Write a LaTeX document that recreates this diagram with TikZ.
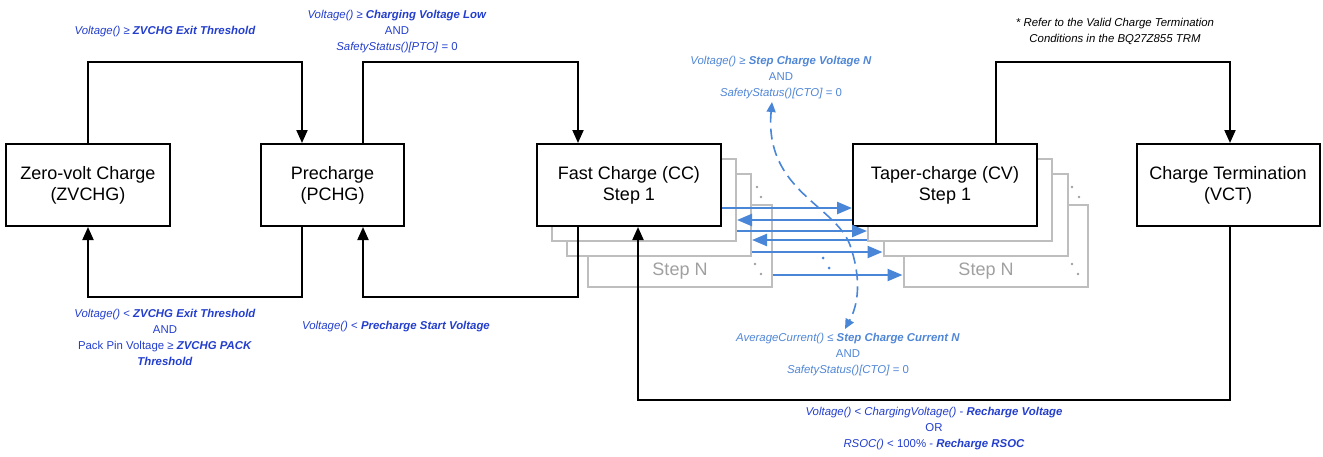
\documentclass[tikz,border=0pt]{standalone}
\usepackage{fontspec}
\setmainfont{Liberation Sans}
\usetikzlibrary{arrows.meta,calc}
\definecolor{dblue}{RGB}{35,62,205}
\definecolor{lblue}{RGB}{80,134,214}
\definecolor{bline}{RGB}{74,134,216}
\definecolor{gline}{RGB}{190,190,190}
\definecolor{gtext}{RGB}{160,160,160}
\newcommand\boxfont{\fontsize{18}{21}\selectfont}
\newcommand\lblfont{\fontsize{11.4}{16}\selectfont}
\newcommand\bi[1]{\textbf{\textit{#1}}}
\tikzset{
  box/.style={draw, line width=2pt, fill=white, minimum height=82pt, inner sep=0pt, align=center, font=\boxfont},
  gbox/.style={draw=gline, line width=2pt, fill=white, minimum height=82pt, minimum width=184pt, inner sep=0pt},
  gtxt/.style={font=\boxfont, text=gtext, inner sep=0pt},
  conn/.style={line width=2pt, -{Triangle[length=13pt,width=11pt]}},
  barrow/.style={draw=bline, line width=2.4pt, -{Triangle[length=15pt,width=12pt]}},
  dasharrow/.style={draw=bline, line width=1.6pt, dash pattern=on 11pt off 6pt, {Triangle[length=10pt,width=9pt]}-{Triangle[length=10pt,width=9pt]}},
  lbl/.style={align=center, font=\lblfont, text=dblue, inner sep=0pt},
  llbl/.style={align=center, font=\lblfont, text=lblue, inner sep=0pt},
  gdot/.style={fill=gtext, draw=none},
  bdot/.style={fill=bline, draw=none}
}
\begin{document}
\begin{tikzpicture}[x=1pt,y=-1pt]
\useasboundingbox (0,0) rectangle (1323,456);
% back stacks
\node[gbox] (fcN) at (679.5,246) {};
\node[gtxt] (fcNl) at (680,271) {Step N};
\node[gbox] (fc3) at (659,215) {};
\node[gbox] (fc2) at (644,200) {};
\node[gbox] (tcN) at (995.5,246) {};
\node[gtxt] (tcNl) at (986,271) {Step N};
\node[gbox] (tc3) at (975.5,215) {};
\node[gbox] (tc2) at (960,200) {};
% main boxes
\node[box, minimum width=164pt] (zv) at (88,185) {Zero-volt Charge\\(ZVCHG)};
\node[box, minimum width=143pt] (pc) at (332.5,185) {Precharge\\(PCHG)};
\node[box, minimum width=184pt] (fc1) at (629,185) {Fast Charge (CC)\\Step 1};
\node[box, minimum width=184pt] (tc1) at (945,185) {Taper-charge (CV)\\Step 1};
\node[box, minimum width=183pt] (vct) at (1228,185) {Charge Termination\\(VCT)};
% ellipsis dots
\foreach \p in {(757,187),(761,197),(755,264),(761,274),(1072,187),(1079,197),(1072,264),(1078,274)}
  \fill[gdot] \p circle (1.4);
\foreach \p in {(823,258),(829,268)}
  \fill[bdot] \p circle (1.5);
% black connectors
\draw[conn] (zv.north) -- (zv.north |- 0,62) -| ([xshift=-30.5pt]pc.north);
\draw[conn] ([xshift=-30.5pt]pc.south) -- ([xshift=-30.5pt]pc.south |- 0,297) -| (zv.south);
\draw[conn] ([xshift=30.5pt]pc.north) -- ([xshift=30.5pt]pc.north |- 0,62) -| ([xshift=-51pt]fc1.north);
\draw[conn] ([xshift=-51pt]fc1.south) -- ([xshift=-51pt]fc1.south |- 0,297) -| ([xshift=30.5pt]pc.south);
\draw[conn] ([xshift=51pt]tc1.north) -- ([xshift=51pt]tc1.north |- 0,62) -| ([xshift=2pt]vct.north);
\draw[conn] ([xshift=2pt]vct.south) -- ([xshift=2pt]vct.south |- 0,400) -| ([xshift=9pt]fc1.south);
% blue step arrows
\draw[barrow] (fc1.east |- 0,208) -- (tc1.west |- 0,208);
\draw[barrow] (tc1.west |- 0,220) -- (fc2.east |- 0,220);
\draw[barrow] (fc2.east |- 0,231) -- (tc2.west |- 0,231);
\draw[barrow] (tc2.west |- 0,240) -- (fc3.east |- 0,240);
\draw[barrow] (fc3.east |- 0,252) -- (tc3.west |- 0,252);
\draw[barrow] (fcN.east |- 0,275) -- (tcN.west |- 0,275);
% dashed curve
\coordinate (dtop) at (772,102);
\coordinate (dbot) at (845,329);
\draw[dasharrow] (dtop) .. controls (764,190) and (835,205) .. (850,245) .. controls (862,280) and (858,305) .. (dbot);
% labels
\node[lbl] (l1) at (165,32) {\textit{Voltage()} ≥ \bi{ZVCHG Exit Threshold}};
\node[lbl] (l2) at (397,32) {\textit{Voltage()} ≥ \bi{Charging Voltage Low}\\AND\\\textit{SafetyStatus()[PTO]} = 0};
\node[lbl, text=black] (note) at (1115,31) {\textit{* Refer to the Valid Charge Termination}\\\textit{Conditions in the BQ27Z855 TRM}};
\node[llbl] (l3) at (781,77.5) {\textit{Voltage()} ≥ \bi{Step Charge Voltage N}\\AND\\\textit{SafetyStatus()[CTO]} = 0};
\node[llbl] (l4) at (848,355) {\textit{AverageCurrent()} ≤ \bi{Step Charge Current N}\\AND\\\textit{SafetyStatus()[CTO]} = 0};
\node[lbl] (l5) at (165,337.5) {\textit{Voltage()} < \bi{ZVCHG Exit Threshold}\\AND\\Pack Pin Voltage ≥ \bi{ZVCHG PACK}\\\bi{Threshold}};
\node[lbl] (l6) at (396,327) {\textit{Voltage()} < \bi{Precharge Start Voltage}};
\node[lbl] (l7) at (934,429) {\textit{Voltage()} < \textit{ChargingVoltage()} - \bi{Recharge Voltage}\\OR\\\textit{RSOC()} < 100\% - \bi{Recharge RSOC}};
\end{tikzpicture}
\end{document}
